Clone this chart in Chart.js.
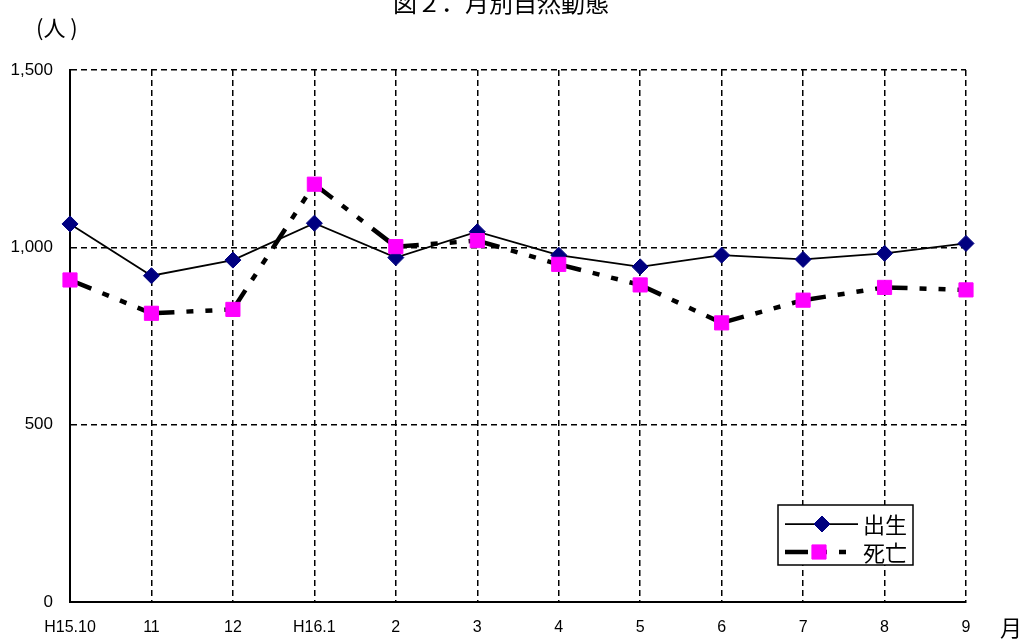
<!DOCTYPE html>
<html>
<head>
<meta charset="utf-8">
<script src="https://cdn.jsdelivr.net/npm/chart.js@4.4.1/dist/chart.umd.min.js"></script>
<style>
  html, body { margin: 0; padding: 0; background: #fff; }
  #wrap { width: 1026px; height: 641px; }
</style>
</head>
<body>
<div id="wrap"><canvas id="chart" width="1026" height="641"></canvas></div>
<script>
// data
const months = ['H15.10', '11', '12', 'H16.1', '2', '3', '4', '5', '6', '7', '8', '9'];
const births = [1066, 920, 964, 1068, 971, 1044, 978, 945, 978, 966, 983, 1011];
const deaths = [908, 814, 825, 1178, 1002, 1019, 952, 894, 787, 851, 887, 880];
const seriesNames = ['出生', '死亡'];
const chartTitle = '図２．月別自然動態';
const yUnit = '(人 )';
const xUnit = '月';

const CJK = '"Noto Sans CJK JP", sans-serif';
const LATIN = '"Liberation Sans", Arial, sans-serif';

// Excel-like long dash / dot / dot
const deathDash = [23, 12, 7, 12, 7, 12];
const gridDash = [6, 4];

// title, units and the boxed legend
const annotate = {
  id: 'annotate',
  afterDraw(chart) {
    const ctx = chart.ctx;
    ctx.save();
    ctx.fillStyle = '#000';
    ctx.font = '24px ' + CJK;
    ctx.textAlign = 'center';
    ctx.textBaseline = 'alphabetic';
    ctx.fillText(chartTitle, 501, 12);

    ctx.font = '22px ' + CJK;
    ctx.textAlign = 'left';
    ctx.textBaseline = 'middle';
    ctx.fillText(yUnit, 36, 28);
    ctx.textAlign = 'center';
    ctx.fillText(xUnit, 1011, 628);

    // legend box
    const bx = 778, by = 505, bw = 135, bh = 60;
    ctx.fillStyle = '#fff';
    ctx.fillRect(bx, by, bw, bh);
    ctx.lineWidth = 1.5;
    ctx.strokeStyle = '#000';
    ctx.strokeRect(bx, by, bw, bh);

    chart.data.datasets.forEach((ds, i) => {
      const y = by + 19 + i * 28;
      ctx.save();
      ctx.strokeStyle = ds.borderColor;
      ctx.lineWidth = ds.borderWidth;
      ctx.lineCap = 'butt';
      ctx.setLineDash(ds.borderDash || []);
      ctx.beginPath();
      ctx.moveTo(785, y);
      ctx.lineTo(858, y);
      ctx.stroke();
      ctx.restore();

      ctx.fillStyle = ds.pointBackgroundColor;
      ctx.strokeStyle = ds.pointBorderColor;
      ctx.lineWidth = 1;
      const r = ds.pointRadius;
      ctx.beginPath();
      if (ds.pointStyle === 'rectRot') {
        const cx = 822;
        ctx.moveTo(cx - r, y);
        ctx.lineTo(cx, y - r);
        ctx.lineTo(cx + r, y);
        ctx.lineTo(cx, y + r);
        ctx.closePath();
      } else {
        const cx = 819, s = Math.SQRT1_2 * r;
        ctx.rect(cx - s, y - s, 2 * s, 2 * s);
      }
      ctx.fill();
      ctx.stroke();

      ctx.fillStyle = '#000';
      ctx.font = '22px ' + CJK;
      ctx.textAlign = 'left';
      ctx.textBaseline = 'middle';
      ctx.fillText(ds.label, 863, y + 1);
    });
    ctx.restore();
  }
};

new Chart(document.getElementById('chart'), {
  type: 'line',
  data: {
    labels: months,
    datasets: [
      {
        label: seriesNames[0],
        data: births,
        borderColor: '#000',
        borderWidth: 1.75,
        tension: 0,
        pointStyle: 'rectRot',
        pointRadius: 8,
        pointBackgroundColor: '#000080',
        pointBorderColor: '#000080',
        pointBorderWidth: 1,
        order: 1
      },
      {
        label: seriesNames[1],
        data: deaths,
        borderColor: '#000',
        borderWidth: 4.5,
        borderDash: deathDash,
        borderCapStyle: 'butt',
        tension: 0,
        // restart the dash pattern on every segment, like the original
        segment: { borderDashOffset: c => (c.p0DataIndex % 2) * 0.01 },
        pointStyle: 'rect',
        pointRadius: 10,
        pointBackgroundColor: '#FF00FF',
        pointBorderColor: '#FF00FF',
        pointBorderWidth: 1,
        order: 0
      }
    ]
  },
  options: {
    responsive: false,
    animation: false,
    events: [],
    layout: { padding: { left: 0, top: 70, right: 60, bottom: 0 } },
    plugins: {
      legend: { display: false },
      title: { display: false },
      tooltip: { enabled: false }
    },
    scales: {
      x: {
        type: 'category',
        offset: false,
        afterFit: s => { s.height = 39; },
        grid: { color: '#000', lineWidth: 1.5, drawTicks: false, offset: false },
        border: { display: true, color: '#000', width: 2, dash: gridDash },
        ticks: {
          color: '#000',
          padding: 16,
          maxRotation: 0,
          autoSkip: false,
          font: { family: LATIN, size: 16 }
        }
      },
      y: {
        min: 0,
        max: 1500,
        afterFit: s => { s.width = 70; },
        grid: { color: '#000', lineWidth: 1.5, drawTicks: false },
        border: { display: true, color: '#000', width: 2, dash: gridDash },
        ticks: {
          stepSize: 500,
          color: '#000',
          padding: 17,
          font: { family: LATIN, size: 17 },
          callback: v => v.toLocaleString('en-US')
        }
      }
    }
  },
  plugins: [annotate]
});
</script>
</body>
</html>
